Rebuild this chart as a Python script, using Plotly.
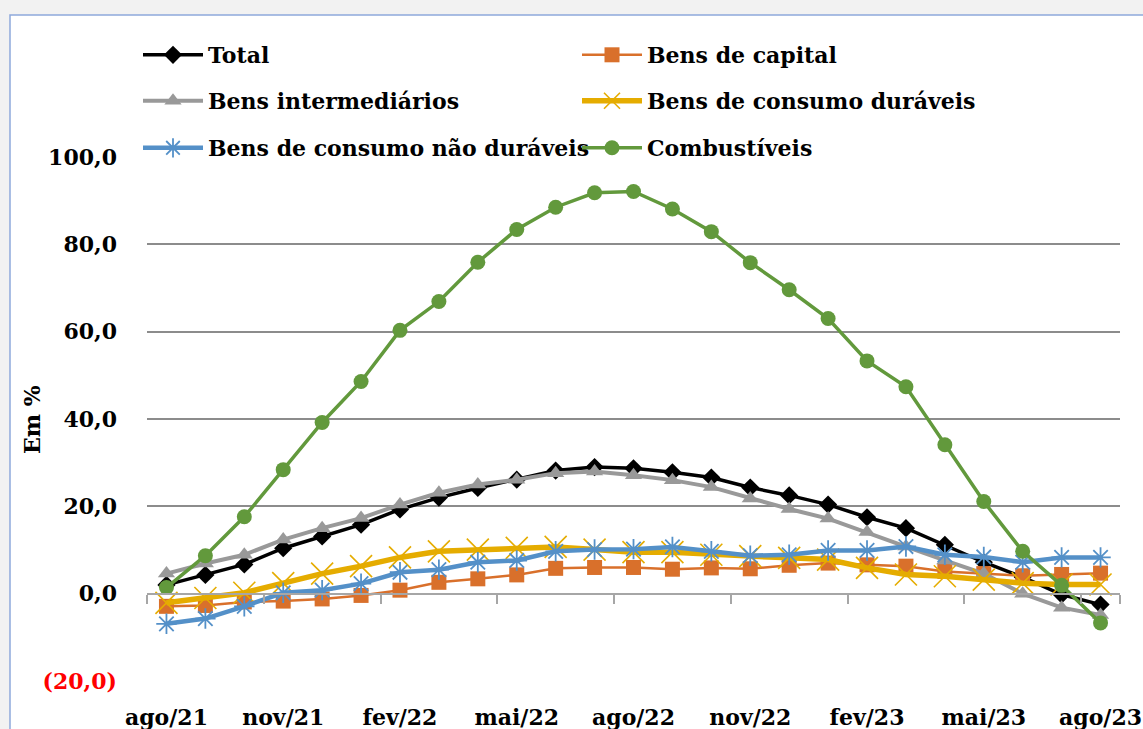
import plotly.graph_objects as go

months = ["ago/21", "set/21", "out/21", "nov/21", "dez/21", "jan/22", "fev/22", "mar/22",
          "abr/22", "mai/22", "jun/22", "jul/22", "ago/22", "set/22", "out/22", "nov/22",
          "dez/22", "jan/23", "fev/23", "mar/23", "abr/23", "mai/23", "jun/23", "jul/23", "ago/23"]

total = [2.0, 4.3, 6.7, 10.4, 13.1, 15.8, 19.3, 22.0, 24.2, 26.1, 28.2, 29.0, 28.7,
         27.8, 26.6, 24.3, 22.5, 20.4, 17.5, 15.0, 11.2, 7.2, 3.8, -0.2, -2.5]
capital = [-2.9, -2.7, -1.9, -1.7, -1.2, -0.4, 0.8, 2.6, 3.4, 4.3, 5.8, 6.0, 6.0,
           5.6, 5.9, 5.7, 6.5, 7.0, 6.6, 6.3, 5.1, 4.6, 4.1, 4.4, 4.7]
intermediarios = [4.6, 6.9, 8.9, 12.4, 15.0, 17.3, 20.4, 23.1, 25.0, 26.1, 27.6, 28.0, 27.1,
                  26.0, 24.4, 21.8, 19.4, 17.2, 14.1, 10.8, 7.6, 4.6, 0.0, -3.2, -4.9]
duraveis = [-2.1, -1.0, 0.2, 2.4, 4.6, 6.3, 8.3, 9.7, 10.1, 10.5, 10.7, 10.1, 9.5,
            9.5, 8.9, 8.6, 8.2, 7.8, 5.9, 4.4, 4.0, 3.2, 2.4, 2.1, 2.1]
nao_duraveis = [-6.9, -5.7, -2.9, 0.2, 0.8, 2.3, 4.9, 5.5, 7.2, 7.6, 9.7, 10.1, 10.2,
                10.7, 9.7, 8.7, 8.9, 9.9, 9.9, 10.8, 8.9, 8.4, 7.2, 8.3, 8.3]
combustiveis = [1.4, 8.7, 17.6, 28.4, 39.2, 48.6, 60.3, 66.9, 75.9, 83.4, 88.5, 91.8, 92.1,
                88.1, 82.9, 75.8, 69.6, 63.0, 53.3, 47.4, 34.1, 21.1, 9.7, 1.9, -6.7]

y_ticks = [-20, 0, 20, 40, 60, 80, 100]
y_ticktext = ['<span style="color:#FF0000">(20,0)</span>', "0,0", "20,0", "40,0", "60,0", "80,0", "100,0"]
x_tick_labels = months[::3]

FONT = "DejaVu Serif"

series = [
    ("Total", total, "#000000", 3.5, "diamond", 14, 0, "legend"),
    ("Bens de capital", capital, "#D9702B", 2.5, "square", 15, 0, "legend"),
    ("Bens intermediários", intermediarios, "#999999", 4, "triangle-up", 15, 0, "legend2"),
    ("Bens de consumo duráveis", duraveis, "#E5AC00", 5.5, "x-thin-open", 22, 1.6, "legend2"),
    ("Bens de consumo não duráveis", nao_duraveis, "#5490C8", 4.5, "asterisk-open", 17, 1.8, "legend3"),
    ("Combustíveis", combustiveis, "#62993C", 3.5, "circle", 15, 0, "legend3"),
]

fig = go.Figure()
for name, vals, color, lw, sym, ms, mlw, leg in series:
    fig.add_trace(go.Scatter(
        x=months, y=vals, name=name, mode="lines+markers",
        line=dict(color=color, width=lw),
        marker=dict(symbol=sym, size=ms, color=color,
                    line=dict(color=color, width=mlw)),
        legend=leg,
    ))

# helper trace for the category axis drawn at y = 0
fig.add_trace(go.Scatter(x=months, y=[None] * len(months), xaxis="x2",
                         showlegend=False, hoverinfo="skip", mode="lines"))

W, H = 1143, 729
L, R, T, B = 147, 23, 157, 48
pw, ph = W - L - R, H - T - B

def py(p):
    return (H - B - p) / ph

def px(p):
    return (p - L) / pw

legend_common = dict(orientation="h", entrywidth=364, entrywidthmode="pixels",
                     itemwidth=60, x=px(147 - 9), xanchor="left", yanchor="middle",
                     bgcolor="rgba(0,0,0,0)",
                     font=dict(family=FONT, size=22, color="#000000", weight="bold"))

x_range = [-0.5, len(months) - 0.5]

fig.update_layout(
    width=W, height=H,
    margin=dict(l=L, r=R, t=T, b=B, autoexpand=False),
    paper_bgcolor="#F2F2F2",
    plot_bgcolor="rgba(0,0,0,0)",
    font=dict(family=FONT, size=22, color="#000000", weight="bold"),
    legend=dict(**legend_common, y=py(55)),
    legend2=dict(**legend_common, y=py(101)),
    legend3=dict(**legend_common, y=py(148)),
    xaxis=dict(type="category", range=x_range, tickmode="array", tickvals=x_tick_labels,
               ticktext=x_tick_labels, ticks="", showgrid=False, showline=False,
               zeroline=False, ticklabelstandoff=21, automargin=False,
               tickfont=dict(family=FONT, size=22, color="#000000", weight="bold")),
    xaxis2=dict(type="category", overlaying="x", matches="x", anchor="free",
                position=20 / 120, showline=True, linecolor="#A6A6A6", linewidth=2,
                ticks="outside", ticklen=9, tickwidth=2, tickcolor="#A6A6A6",
                tickson="boundaries", tickmode="array", tickvals=x_tick_labels,
                showticklabels=False, showgrid=False, zeroline=False, automargin=False),
    yaxis=dict(range=[-20, 100], tickmode="array", tickvals=y_ticks, ticktext=y_ticktext,
               showgrid=True, gridcolor="#8C8C8C", gridwidth=1.5, zeroline=False,
               ticks="", ticklabelstandoff=29, automargin=False,
               tickfont=dict(family=FONT, size=22, color="#000000", weight="bold")),
    annotations=[dict(text="Em %", textangle=-90, xref="paper", yref="paper",
                      x=px(32), y=py(420), xanchor="center", yanchor="middle",
                      showarrow=False,
                      font=dict(family=FONT, size=22, color="#000000", weight="bold"))],
    shapes=[dict(type="rect", xref="paper", yref="paper", layer="below",
                 x0=px(10), x1=px(1160), y0=py(745), y1=py(15),
                 fillcolor="#FFFFFF", line=dict(color="#8EA9DB", width=1.5))],
    showlegend=True,
)

fig.write_html("out.html", config={"displayModeBar": False},
               post_script="document.body.style.margin='0';")
